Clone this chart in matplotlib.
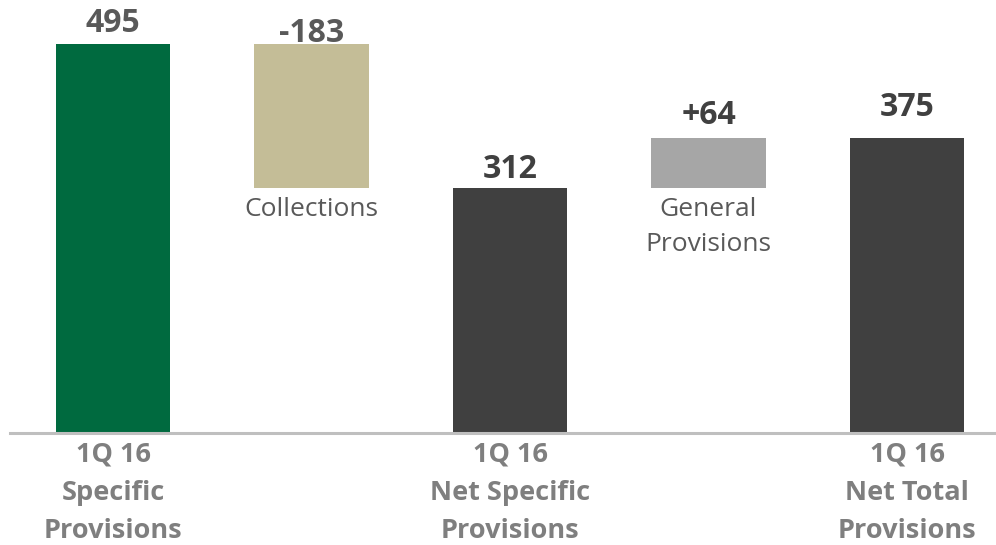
import matplotlib.pyplot as plt

# waterfall data
steps = ['1Q 16\nSpecific\nProvisions', 'Collections', '1Q 16\nNet Specific\nProvisions',
         'General\nProvisions', '1Q 16\nNet Total\nProvisions']
amounts = [495, -183, 312, 64, 375]
is_total = [True, False, True, False, True]
value_text = ['495', '-183', '312', '+64', '375']
colors = ['#006A3F', '#C4BD97', '#404040', '#A6A6A6', '#404040']
value_colors = ['#595959', '#595959', '#404040', '#404040', '#404040']
label_gap = [12, 2, 10, 14, 22]   # px between bar top and label baseline

fig = plt.figure(figsize=(9.96, 5.45), dpi=100)
ax = fig.add_axes([10/996, 112/545, 1 - 10/996, 433/545])

bottoms, heights = [], []
run = 0
for a, tot in zip(amounts, is_total):
    if tot:
        bottoms.append(0)
        heights.append(a)
        run = a
    else:
        lo = min(run, run + a)
        bottoms.append(lo)
        heights.append(abs(a))
        run += a

x = list(range(len(steps)))
ax.bar(x, heights, bottom=bottoms, width=0.575, color=colors, zorder=2)

px = 72 / 100
for i in x:
    top = bottoms[i] + heights[i]
    ax.annotate(value_text[i], (i, top), xytext=(0, label_gap[i] * px),
                textcoords='offset points', ha='center', va='baseline',
                fontsize=23, fontweight='bold', color=value_colors[i],
                family='Open Sans')
    if is_total[i]:
        # category label under the axis, last line baseline ~105 px below
        ax.annotate(steps[i], (i, 0), xytext=(0, -105 * px),
                    textcoords='offset points', ha='center', va='baseline',
                    fontsize=19.5, fontweight='bold', color='#7F7F7F',
                    family='Open Sans', linespacing=1.6, annotation_clip=False)
    else:
        # baseline anchoring uses the last line, so push down per extra line
        nlines = steps[i].count('\n') + 1
        ax.annotate(steps[i], (i, bottoms[i]), xytext=(0, -(28 + 35 * (nlines - 1)) * px),
                    textcoords='offset points', ha='center', va='baseline',
                    fontsize=19, color='#595959', family='Open Sans',
                    linespacing=1.52)

ax.set_xlim(-0.519, 4.448)
ax.set_ylim(0, 551)
ax.set_xticks([])
ax.set_yticks([])
for s in ['top', 'right', 'left']:
    ax.spines[s].set_visible(False)
ax.spines['bottom'].set_color('#BFBFBF')
ax.spines['bottom'].set_linewidth(2.2)

fig.savefig('out.png', dpi=100)
